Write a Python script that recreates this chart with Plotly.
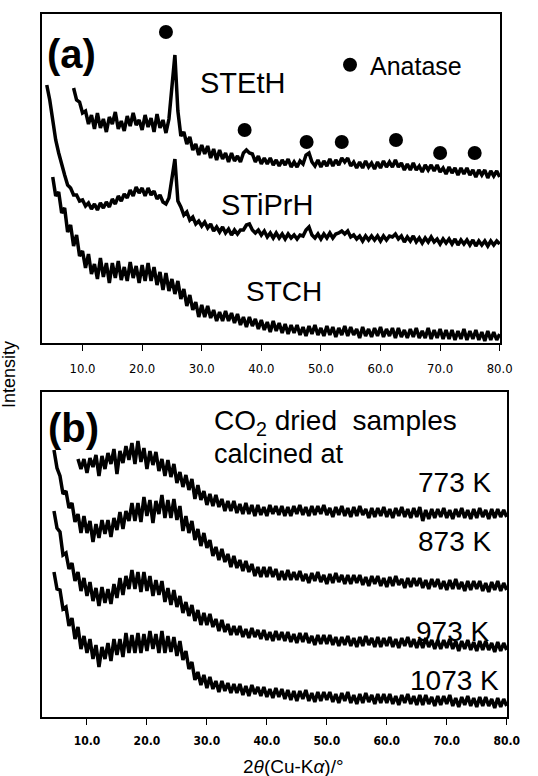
import plotly.graph_objects as go

# ---------------- data (arbitrary intensity units) ----------------
STEP = 0.5

# panel (a)
STETH_START = 8.5
STETH_I = [
    255, 243, 241, 230, 232, 219, 228, 214, 230, 215,
    224, 211, 226, 219, 231, 214, 222, 212, 227, 217,
    230, 218, 223, 213, 228, 216, 225, 211, 229, 215,
    223, 210, 224, 255, 288, 232, 207, 211, 199, 206,
    193, 199, 188, 198, 189, 197, 185, 194, 183, 193,
    184, 190, 181, 190, 182, 187, 181, 190, 193, 190,
    189, 181, 187, 179, 185, 179, 185, 178, 183, 177,
    183, 178, 184, 176, 181, 176, 182, 179, 188, 190,
    181, 177, 183, 176, 182, 177, 184, 177, 183, 178,
    185, 181, 185, 177, 181, 175, 181, 175, 182, 176,
    180, 174, 181, 175, 182, 176, 181, 176, 183, 176,
    180, 173, 179, 173, 180, 173, 177, 171, 178, 173,
    178, 172, 178, 171, 175, 169, 176, 170, 175, 168,
    175, 169, 175, 168, 173, 166, 173, 168, 173, 165,
    172, 167, 172, 166,
]

STIPRH_START = 4.0
STIPRH_I = [
    258, 243, 223, 203, 190, 178, 168, 158, 155, 148,
    148, 142, 143, 137, 140, 134, 139, 133, 140, 135,
    141, 136, 144, 139, 147, 142, 149, 145, 153, 147,
    156, 150, 155, 147, 155, 148, 152, 144, 148, 141,
    139, 145, 165, 184, 142, 136, 128, 131, 123, 126,
    119, 122, 117, 121, 115, 119, 112, 116, 111, 116,
    110, 114, 108, 113, 109, 113, 113, 118, 119, 113,
    110, 113, 108, 112, 106, 110, 105, 110, 105, 109,
    104, 109, 105, 108, 104, 108, 107, 113, 116, 108,
    105, 109, 104, 109, 105, 110, 105, 109, 110, 112,
    109, 112, 106, 108, 104, 107, 102, 107, 103, 107,
    103, 107, 102, 107, 103, 107, 106, 109, 104, 107,
    101, 106, 102, 107, 101, 105, 100, 105, 101, 106,
    101, 104, 99, 104, 100, 104, 99, 104, 98, 103,
    99, 103, 98, 103, 97, 102, 98, 102, 97, 102,
    98, 102, 99,
]

STCH_START = 5.0
STCH_I = [
    166, 147, 151, 130, 135, 111, 118, 97, 108, 87,
    92, 75, 89, 69, 79, 64, 85, 66, 80, 60,
    80, 65, 82, 63, 76, 62, 81, 65, 77, 60,
    78, 62, 80, 62, 76, 58, 71, 53, 70, 52,
    64, 49, 62, 44, 54, 37, 48, 33, 41, 26,
    38, 26, 37, 25, 33, 22, 31, 22, 32, 22,
    30, 20, 29, 18, 26, 16, 26, 17, 24, 14,
    23, 13, 21, 11, 22, 12, 20, 10, 19, 9,
    18, 10, 18, 8, 16, 7, 17, 9, 18, 8,
    15, 7, 17, 8, 16, 6, 15, 8, 17, 7,
    16, 8, 14, 5, 16, 7, 14, 6, 15, 7,
    16, 6, 14, 7, 15, 5, 15, 6, 13, 5,
    14, 6, 15, 5, 12, 5, 15, 4, 13, 5,
    14, 4, 13, 4, 13, 3, 12, 4, 14, 3,
    12, 4, 13, 3, 11, 2, 12, 3, 11, 3,
    9,
]

ANATASE_2THETA = [24.0, 37.2, 47.6, 53.5, 62.6, 70.0, 75.8]
ANATASE_MARK_I = [311, 213, 201, 201, 203, 190, 190]

# panel (b)
K773_START = 8.5
K773_I = [
    258, 248, 258, 244, 259, 250, 262, 241, 261, 248,
    264, 253, 268, 243, 266, 254, 271, 257, 274, 253,
    276, 255, 269, 248, 266, 252, 265, 246, 258, 241,
    257, 240, 253, 234, 245, 230, 242, 227, 238, 218,
    232, 217, 226, 212, 223, 211, 222, 210, 218, 206,
    216, 206, 216, 204, 213, 203, 214, 203, 212, 201,
    212, 202, 210, 201, 212, 203, 211, 202, 211, 201,
    210, 201, 211, 203, 212, 202, 210, 201, 211, 202,
    211, 203, 212, 202, 209, 200, 210, 202, 211, 201,
    209, 200, 210, 201, 211, 202, 208, 199, 209, 200,
    209, 201, 210, 200, 208, 199, 209, 201, 210, 200,
    208, 199, 209, 200, 210, 196, 207, 198, 208, 199,
    208, 200, 209, 199, 207, 198, 208, 200, 209, 199,
    207, 198, 208, 199, 209, 200, 207, 198, 208, 199,
    208, 200, 207, 200,
]

K873_START = 4.5
K873_I = [
    267, 249, 241, 223, 226, 209, 214, 195, 203, 184,
    201, 184, 196, 175, 193, 179, 197, 183, 197, 180,
    199, 187, 205, 188, 206, 196, 214, 196, 214, 195,
    220, 201, 217, 194, 216, 203, 222, 199, 217, 199,
    218, 197, 211, 186, 201, 184, 196, 177, 188, 171,
    184, 169, 177, 161, 170, 157, 168, 155, 163, 150,
    161, 149, 157, 146, 156, 145, 153, 141, 150, 140,
    150, 140, 150, 140, 148, 137, 146, 137, 147, 137,
    145, 137, 146, 136, 143, 134, 144, 136, 145, 135,
    142, 133, 143, 134, 144, 135, 142, 133, 142, 133,
    142, 134, 142, 132, 140, 131, 141, 133, 141, 131,
    139, 130, 140, 131, 141, 132, 138, 129, 139, 130,
    139, 131, 139, 129, 137, 128, 138, 130, 138, 128,
    136, 127, 137, 128, 138, 128, 135, 126, 136, 127,
    136, 128, 136, 126, 134, 125, 135, 127, 136, 126,
    134, 127,
]

K973_START = 4.5
K973_I = [
    206, 189, 185, 162, 164, 148, 154, 136, 145, 126,
    139, 121, 135, 116, 129, 111, 130, 114, 128, 113,
    133, 119, 139, 122, 141, 128, 147, 128, 145, 125,
    145, 126, 141, 121, 137, 122, 136, 115, 129, 112,
    127, 110, 121, 104, 115, 101, 112, 96, 107, 92,
    104, 92, 103, 90, 98, 86, 97, 85, 93, 82,
    91, 82, 91, 80, 88, 79, 89, 80, 87, 78,
    87, 77, 85, 76, 86, 77, 85, 76, 85, 75,
    83, 74, 84, 75, 84, 74, 81, 72, 82, 73,
    82, 73, 82, 72, 80, 71, 80, 72, 81, 71,
    79, 70, 80, 71, 81, 72, 79, 70, 80, 70,
    79, 71, 80, 70, 78, 69, 79, 71, 80, 70,
    78, 69, 78, 69, 79, 70, 77, 68, 77, 68,
    77, 69, 78, 68, 76, 66, 76, 68, 77, 67,
    75, 66, 76, 67, 76, 67, 74, 65, 75, 66,
    74, 67,
]

K1073_START = 4.5
K1073_I = [
    145, 128, 127, 108, 110, 91, 99, 78, 90, 68,
    81, 64, 78, 58, 72, 50, 70, 58, 74, 56,
    78, 62, 78, 60, 84, 64, 82, 64, 84, 64,
    83, 66, 86, 68, 83, 64, 86, 64, 81, 65,
    80, 61, 76, 57, 66, 48, 55, 37, 45, 32,
    42, 29, 40, 28, 36, 25, 36, 26, 34, 24,
    33, 24, 33, 22, 31, 21, 32, 23, 30, 21,
    30, 20, 28, 19, 29, 20, 28, 18, 27, 17,
    26, 16, 26, 18, 27, 16, 24, 15, 25, 16,
    25, 17, 25, 15, 23, 14, 24, 16, 25, 14,
    22, 13, 23, 14, 24, 15, 22, 13, 23, 14,
    23, 14, 23, 13, 21, 12, 22, 14, 23, 13,
    21, 12, 22, 12, 22, 13, 20, 11, 21, 12,
    21, 13, 22, 11, 19, 10, 20, 12, 21, 11,
    19, 10, 20, 11, 20, 11, 18, 9, 19, 10,
    18, 11,
]

TICK_VALS = [10, 20, 30, 40, 50, 60, 70, 80]
TICK_TEXT = ["10.0", "20.0", "30.0", "40.0", "50.0", "60.0", "70.0", "80.0"]


def scan_x(start, vals):
    return [start + STEP * i for i in range(len(vals))]


W, H = 538, 776
FONT = "Liberation Sans, Arial, sans-serif"
NARROW = "Liberation Sans Narrow, DejaVu Sans Condensed, Liberation Sans, Arial"

fig = go.Figure()
line = dict(color="black", width=3.5)

for start, vals in [(STETH_START, STETH_I), (STIPRH_START, STIPRH_I), (STCH_START, STCH_I)]:
    fig.add_trace(go.Scatter(x=scan_x(start, vals), y=vals, mode="lines", line=line,
                             xaxis="x", yaxis="y", showlegend=False, hoverinfo="skip"))

fig.add_trace(go.Scatter(x=ANATASE_2THETA, y=ANATASE_MARK_I, mode="markers", name="Anatase",
                         marker=dict(color="black", size=14), xaxis="x", yaxis="y",
                         showlegend=True))

for start, vals in [(K773_START, K773_I), (K873_START, K873_I), (K973_START, K973_I),
                    (K1073_START, K1073_I)]:
    fig.add_trace(go.Scatter(x=scan_x(start, vals), y=vals, mode="lines", line=line,
                             xaxis="x2", yaxis="y2", showlegend=False, hoverinfo="skip"))


def px(x):
    return x / W


def py(y):
    return 1 - y / H


axis_common = dict(showline=True, linecolor="black", linewidth=1.5, mirror=True,
                   showgrid=False, zeroline=False, automargin=False)
xcommon = dict(axis_common, tickmode="array", tickvals=TICK_VALS, ticktext=TICK_TEXT,
               ticks="outside", ticklen=6, tickwidth=1.2, tickcolor="black")
ycommon = dict(axis_common, showticklabels=False, ticks="")

fig.update_layout(
    width=W, height=H, autosize=False,
    margin=dict(l=0, r=0, t=0, b=0, autoexpand=False),
    paper_bgcolor="white", plot_bgcolor="white",
    font=dict(family=FONT, color="black"),
    xaxis=dict(xcommon, domain=[px(42), px(500)], range=[3.2, 80.05], anchor="y",
               ticklabelstandoff=7,
               tickfont=dict(family=NARROW, size=13, color="black")),
    yaxis=dict(ycommon, domain=[py(343), py(14)], range=[0, 329], anchor="x"),
    xaxis2=dict(xcommon, domain=[px(42), px(507)], range=[2.5, 80.05], anchor="y2",
                ticklabelstandoff=6,
                tickfont=dict(family=NARROW, size=12, color="black", weight="bold")),
    yaxis2=dict(ycommon, domain=[py(717), py(392)], range=[0, 325], anchor="x2"),
    showlegend=True,
    legend=dict(x=px(330), y=py(65), xanchor="left", yanchor="middle",
                bgcolor="rgba(0,0,0,0)", borderwidth=0,
                font=dict(family=FONT, size=25, color="black")),
)


def label(text, x, y, size, xanchor="center", bold=False):
    fig.add_annotation(text=f"<b>{text}</b>" if bold else text, x=px(x), y=py(y),
                       xref="paper", yref="paper", xanchor=xanchor, yanchor="middle",
                       showarrow=False, font=dict(family=FONT, size=size, color="black"))


label("(a)", 71, 54, 40, bold=True)
label("(b)", 73, 428, 40, bold=True)
label("STEtH", 242, 83, 29)
label("STiPrH", 267, 205, 29)
label("STCH", 284, 291, 28)
label("CO<sub>2</sub> dried\u00a0 samples", 212, 423, 28, xanchor="left")
label("calcined at", 212, 454, 27, xanchor="left")
label("773 K", 493, 482, 28, xanchor="right")
label("873 K", 493, 541, 28, xanchor="right")
label("973 K", 491, 631, 28, xanchor="right")
label("1073 K", 501, 680, 28, xanchor="right")
label("2<i>θ</i>(Cu-K<i>α</i>)/°", 293, 766, 19)
fig.add_annotation(text="Intensity", x=px(9), y=py(375), xref="paper", yref="paper",
                   textangle=-90, showarrow=False, xanchor="center", yanchor="middle",
                   font=dict(family=FONT, size=18, color="black"))

fig.write_html("out.html")
